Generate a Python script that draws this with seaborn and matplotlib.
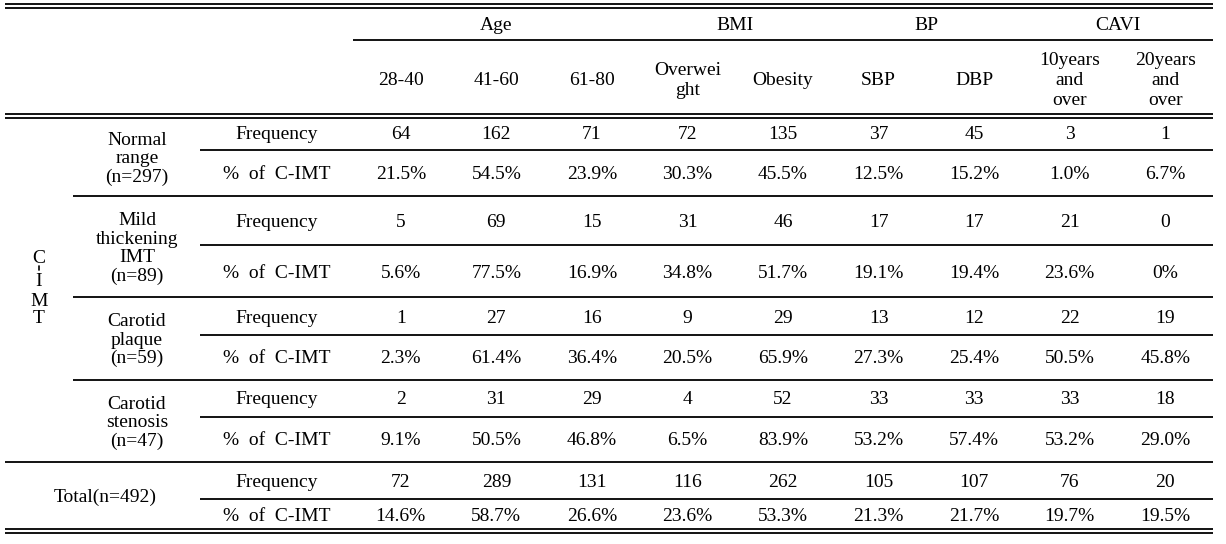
import matplotlib
matplotlib.use("Agg")
import matplotlib.pyplot as plt
import seaborn as sns

# ---------------- data ----------------
groups = ["Age", "BMI", "BP", "CAVI"]
group_spans = [3, 2, 2, 2]
subheaders = ["28-40", "41-60", "61-80", "Overwei\nght", "Obesity",
              "SBP", "DBP", "10years\nand\nover", "20years\nand\nover"]
row_kinds = ["Frequency", "%  of  C-IMT"]
cimt_label = ["C", "I", "M", "T"]
cimt_groups = ["Normal\nrange\n(n=297)", "Mild\nthickening\nIMT\n(n=89)",
               "Carotid\nplaque\n(n=59)", "Carotid\nstenosis\n(n=47)"]
total_label = "Total(n=492)"

freq_normal = [64, 162, 71, 72, 135, 37, 45, 3, 1]
pct_normal = ["21.5%", "54.5%", "23.9%", "30.3%", "45.5%", "12.5%", "15.2%", "1.0%", "6.7%"]
freq_mild = [5, 69, 15, 31, 46, 17, 17, 21, 0]
pct_mild = ["5.6%", "77.5%", "16.9%", "34.8%", "51.7%", "19.1%", "19.4%", "23.6%", "0%"]
freq_plaque = [1, 27, 16, 9, 29, 13, 12, 22, 19]
pct_plaque = ["2.3%", "61.4%", "36.4%", "20.5%", "65.9%", "27.3%", "25.4%", "50.5%", "45.8%"]
freq_stenosis = [2, 31, 29, 4, 52, 33, 33, 33, 18]
pct_stenosis = ["9.1%", "50.5%", "46.8%", "6.5%", "83.9%", "53.2%", "57.4%", "53.2%", "29.0%"]
freq_total = [72, 289, 131, 116, 262, 105, 107, 76, 20]
pct_total = ["14.6%", "58.7%", "26.6%", "23.6%", "53.3%", "21.3%", "21.7%", "19.7%", "19.5%"]

# ---------------- style ----------------
sns.set_theme(style="white")
plt.rcParams["font.family"] = ["Liberation Serif", "DejaVu Serif"]
FS = 14
CAP = 6.4      # half cap height in px
LH = 19.0      # line height in px
LW = 1.3

fig = plt.figure(figsize=(12.26, 5.44), dpi=100)
ax = fig.add_axes([0, 0, 1, 1])
ax.set_xlim(0, 1226)
ax.set_ylim(544, 0)
ax.axis("off")
sns.despine(ax=ax, left=True, bottom=True)


def put(x, yc, s, lh=LH, **kw):
    lines = s.split("\n")
    n = len(lines)
    for i, ln in enumerate(lines):
        y = yc + (i - (n - 1) / 2) * lh
        ax.text(x, y + CAP, ln, ha="center", va="baseline", fontsize=FS,
                color="black", **kw)


# layout
x_left, x_right = 5, 1213
x_data0 = 353
ncol = len(subheaders)
colw = (x_right - x_data0) / ncol
col_centers = [x_data0 + colw * (i + 0.5) for i in range(ncol)]

# rules
def hline(y, x0, x1=x_right):
    ax.plot([x0, x1], [y, y], color="black", lw=LW, solid_capstyle="butt")

for y in (4, 7.5):
    hline(y, x_left)
hline(40, x_data0)
for y in (114, 117.5):
    hline(y, x_left)
for y in (529, 532.5):
    hline(y, x_left)

# header
start = 0
for g, span in zip(groups, group_spans):
    cx = (col_centers[start] + col_centers[start + span - 1]) / 2
    put(cx, 24, g)
    start += span
for cx, s in zip(col_centers, subheaders):
    put(cx, 79, s, lh=20)

# body
blocks = [
    (cimt_groups[0], freq_normal, pct_normal, 117.5, 196, 133, 173, 150),
    (cimt_groups[1], freq_mild, pct_mild, 196, 297, 221, 272, 245),
    (cimt_groups[2], freq_plaque, pct_plaque, 297, 380, 317, 357, 335),
    (cimt_groups[3], freq_stenosis, pct_stenosis, 380, 462, 398, 439, 417),
    (total_label, freq_total, pct_total, 462, 529, 481, 515, 499),
]
for k, (lab, fr, pc, y0, y1, yf, yp, ysep) in enumerate(blocks):
    if k < 4:
        put(137, (y0 + y1) / 2, lab, lh=18.5)
    else:
        put(105, 496, lab)
    put(277, yf, row_kinds[0])
    put(277, yp, row_kinds[1])
    for cx, v in zip(col_centers, fr):
        put(cx, yf, str(v))
    for cx, v in zip(col_centers, pc):
        put(cx, yp, v)
    hline(ysep, 200)
    if k < 3:
        hline(y1, 73)
    elif k == 3:
        hline(y1, x_left)

# vertical C-IMT label
for ch, yc in zip(cimt_label, [257, 280, 300, 317]):
    put(39, yc, ch)
ax.plot([39, 39], [265.5, 269.5], color="black", lw=1.2)

fig.savefig("out.png", dpi=100)
